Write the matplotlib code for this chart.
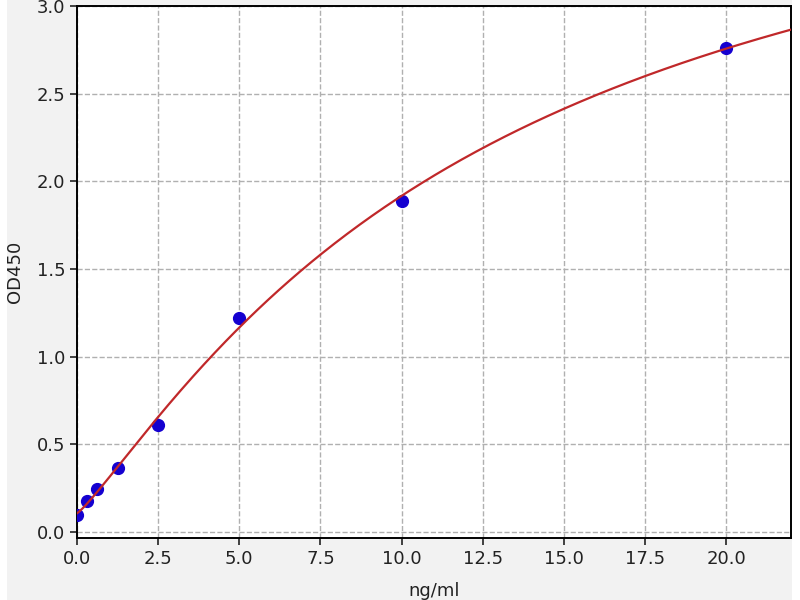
import numpy as np
import matplotlib
matplotlib.use("Agg")
import matplotlib.pyplot as plt
from matplotlib.patches import Rectangle

# Data
conc = [0.0, 0.3125, 0.625, 1.25, 2.5, 5.0, 10.0, 20.0]
od450 = [0.095, 0.178, 0.247, 0.363, 0.610, 1.222, 1.889, 2.763]
x_ticks = [0.0, 2.5, 5.0, 7.5, 10.0, 12.5, 15.0, 17.5, 20.0]
y_ticks = [0.0, 0.5, 1.0, 1.5, 2.0, 2.5, 3.0]


def four_pl(x, p):
    a, b, c, d = p
    return d + (a - d) / (1.0 + (np.abs(x) / c) ** b)


def fit_4pl(x, y, p0, iters=500):
    p = np.array(p0, dtype=float)
    lam = 1e-3
    x = np.asarray(x, float)
    y = np.asarray(y, float)
    def resid(pp):
        return four_pl(x, pp) - y
    r = resid(p)
    cost = r @ r
    for _ in range(iters):
        J = np.empty((len(x), 4))
        for k in range(4):
            h = 1e-6 * max(abs(p[k]), 1e-3)
            pp = p.copy(); pp[k] += h
            J[:, k] = (resid(pp) - r) / h
        A = J.T @ J
        g = J.T @ r
        try:
            step = np.linalg.solve(A + lam * np.diag(np.diag(A) + 1e-12), -g)
        except np.linalg.LinAlgError:
            break
        pn = p + step
        if pn[2] <= 0 or pn[1] <= 0:
            lam *= 10
            continue
        rn = resid(pn)
        cn = rn @ rn
        if cn < cost:
            p, r, cost = pn, rn, cn
            lam = max(lam / 10, 1e-12)
        else:
            lam *= 10
            if lam > 1e12:
                break
    return p


params = fit_4pl(conc, od450, [0.1, 1.2, 15.0, 4.5])

fig = plt.figure(figsize=(8, 6), dpi=100, facecolor="#f2f2f2")
# white borders of the cropped screenshot
fig.patches.append(Rectangle((0, 0), 7 / 800, 1, transform=fig.transFigure,
                             facecolor="white", edgecolor="none", zorder=-1))
fig.patches.append(Rectangle((792 / 800, 0), 8 / 800, 1, transform=fig.transFigure,
                             facecolor="white", edgecolor="none", zorder=-1))

ax = fig.add_axes([77 / 800, 62 / 600, (791 - 77) / 800, (538 - 6) / 600])
ax.set_facecolor("white")

ax.plot(conc, od450, "o", color="#1400d0", markersize=8.5, zorder=3)
xs = np.linspace(0, 22, 400)
ax.plot(xs, four_pl(xs, params), color="#c0282a", linewidth=1.6, zorder=4)

ax.set_xlim(0, 22)
ax.set_ylim(-0.034, 3.0)
ax.set_xticks(x_ticks)
ax.set_yticks(y_ticks)
ax.set_xticklabels([f"{t:.1f}" for t in x_ticks])
ax.set_yticklabels([f"{t:.1f}" for t in y_ticks])
ax.tick_params(labelsize=13, length=5, width=1.2, colors="#222222", labelcolor="#222222")
ax.grid(True, linestyle="--", color="#b0b0b0", linewidth=1.0)
for s in ax.spines.values():
    s.set_linewidth(1.4)

ax.set_xlabel("ng/ml", fontsize=13, labelpad=10, color="#222222")
ax.set_ylabel("OD450", fontsize=13, labelpad=9, color="#222222")

fig.savefig("out.png", dpi=100, facecolor=fig.get_facecolor())
